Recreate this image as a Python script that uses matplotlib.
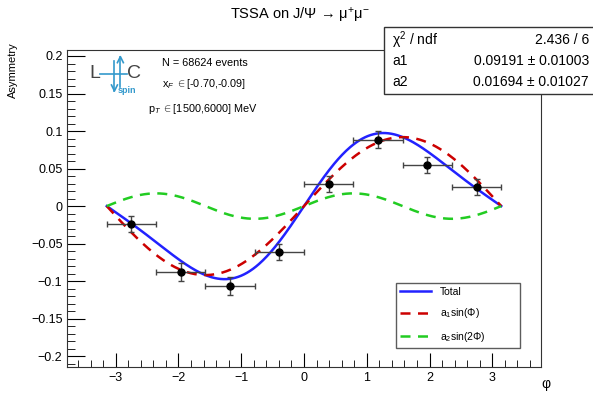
import numpy as np
import matplotlib.pyplot as plt
from matplotlib.ticker import MultipleLocator

plt.rcParams['font.family'] = ['Liberation Sans', 'DejaVu Sans']
plt.rcParams['mathtext.fontset'] = 'custom'
plt.rcParams['mathtext.rm'] = 'Liberation Sans'
plt.rcParams['mathtext.it'] = 'Liberation Sans:italic'

# binned asymmetry vs phi
phi_bins = [-7*np.pi/8, -5*np.pi/8, -3*np.pi/8, -np.pi/8, np.pi/8, 3*np.pi/8, 5*np.pi/8, 7*np.pi/8]
asym = [-0.0236, -0.0880, -0.1067, -0.0618, 0.0293, 0.0884, 0.0547, 0.0253]
asym_err = [0.0103, 0.0116, 0.0120, 0.0107, 0.0105, 0.0110, 0.0110, 0.0102]
bin_half = np.pi / 8

# fit results
a1 = 0.09191
a2 = 0.01694
chi2_ndf = "2.436 / 6"
a1_txt = "0.09191 \u00b1 0.01003"
a2_txt = "0.01694 \u00b1 0.01027"

fig = plt.figure(figsize=(5.93, 3.99), dpi=100)
ax = fig.add_axes([0.1135, 0.081, 0.7983, 0.7937])

phi = np.linspace(-np.pi, np.pi, 400)
ax.plot(phi, a1*np.sin(phi) + a2*np.sin(2*phi), color='#2222ff', lw=1.8, label='Total', zorder=3)
ax.plot(phi, a1*np.sin(phi), color='#cc0000', lw=1.8, ls=(0, (4, 3)), label=r'a$_1$sin($\Phi$)', zorder=3)
ax.plot(phi, a2*np.sin(2*phi), color='#22cc22', lw=1.8, ls=(0, (4, 3)), label=r'a$_2$sin(2$\Phi$)', zorder=3)

ax.errorbar(phi_bins, asym, yerr=asym_err, xerr=bin_half, fmt='o', color='black',
            ecolor='#444444', elinewidth=1, capsize=2.5, markersize=5, zorder=4)

ax.set_xlim(-1.2*np.pi, 1.2*np.pi)
ax.set_ylim(-0.214, 0.208)
ax.xaxis.set_major_locator(MultipleLocator(1))
ax.xaxis.set_minor_locator(MultipleLocator(0.2))
ax.yaxis.set_major_locator(MultipleLocator(0.05))
ax.yaxis.set_minor_locator(MultipleLocator(0.01))
ax.tick_params(axis='both', which='both', direction='in', top=False, right=False, labelsize=9)
ax.tick_params(axis='y', which='major', length=13)
ax.tick_params(axis='y', which='minor', length=6)
ax.tick_params(axis='x', which='major', length=10)
ax.tick_params(axis='x', which='minor', length=5)
ax.set_yticks([-0.2, -0.15, -0.1, -0.05, 0, 0.05, 0.1, 0.15, 0.2])
ax.set_yticklabels(['\u22120.2', '\u22120.15', '\u22120.1', '\u22120.05', '0', '0.05', '0.1', '0.15', '0.2'])
ax.set_xticks([-3, -2, -1, 0, 1, 2, 3])
ax.set_xticklabels(['\u22123', '\u22122', '\u22121', '0', '1', '2', '3'])
for s in ax.spines.values():
    s.set_color('#333333')

fig.text(0.022, 0.895, 'Asymmetry', rotation=90, ha='center', va='top', fontsize=8)
fig.text(0.921, 0.02, '\u03c6', ha='center', va='bottom', fontsize=10)
fig.text(0.506, 0.962, 'TSSA on J/\u03a8 \u2192 \u03bc$^{+}$\u03bc$^{-}$', ha='center', va='center', fontsize=10.5)

# info text
fig.text(0.273, 0.843, 'N = 68624 events', fontsize=7.8, va='center')
fig.text(0.273, 0.790, r'x$_F$ $\in$[-0.70,-0.09]', fontsize=7.8, va='center')
fig.text(0.250, 0.727, r'p$_T$ $\in$[1500,6000] MeV', fontsize=7.8, va='center')

# LHCspin logo
fig.text(0.150, 0.816, 'L', fontsize=14, color='#444444', va='center')
fig.text(0.214, 0.816, 'C', fontsize=14, color='#444444', va='center')
fig.text(0.198, 0.785, 'spin', fontsize=6.5, color='#3399cc', va='top', fontweight='bold')
lc = '#3399cc'
fig.add_artist(plt.Line2D([0.169, 0.214], [0.8145, 0.8145], color=lc, lw=1.2))
fig.add_artist(plt.Line2D([0.193, 0.193], [0.772, 0.848], color=lc, lw=1.2))
fig.add_artist(plt.Line2D([0.203, 0.203], [0.782, 0.858], color=lc, lw=1.2))
fig.add_artist(plt.Line2D([0.198, 0.203, 0.208], [0.843, 0.858, 0.843], color=lc, lw=1.2))
fig.add_artist(plt.Line2D([0.188, 0.193, 0.198], [0.787, 0.772, 0.787], color=lc, lw=1.2))

# stat box
box = plt.Rectangle((0.648, 0.765), 0.36, 0.168, transform=fig.transFigure,
                    facecolor='white', edgecolor='#333333', lw=1, zorder=5)
fig.add_artist(box)
rows = [('\u03c7$^{2}$ / ndf', chi2_ndf), ('a1', a1_txt), ('a2', a2_txt)]
for i, (lab, val) in enumerate(rows):
    y = 0.900 - i*0.053
    fig.text(0.661, y, lab, fontsize=10, va='center', zorder=6)
    fig.text(0.993, y, val, fontsize=10, va='center', ha='right', zorder=6)

leg = ax.legend(loc='lower left', bbox_to_anchor=(0.694, 0.059, 0.262, 0.205), mode='expand',
                fontsize=7.5, frameon=True, fancybox=False, edgecolor='#333333',
                handlelength=3, borderaxespad=0, labelspacing=0.9)
leg.get_frame().set_linewidth(1)

fig.savefig('out.png', dpi=100)
